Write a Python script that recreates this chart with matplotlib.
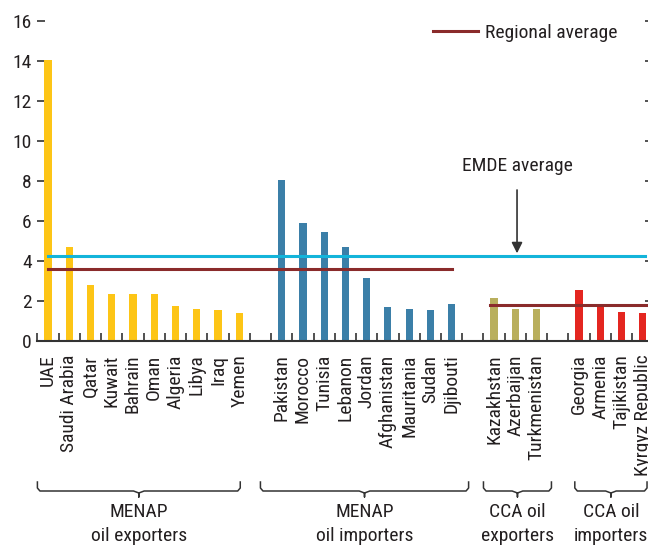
import matplotlib.pyplot as plt
import numpy as np

plt.rcParams['font.family'] = ['Roboto Condensed', 'DejaVu Sans']

# data
menap_exp = ["UAE", "Saudi Arabia", "Qatar", "Kuwait", "Bahrain", "Oman",
             "Algeria", "Libya", "Iraq", "Yemen"]
menap_exp_vals = [14.05, 4.68, 2.78, 2.33, 2.33, 2.33, 1.73, 1.58, 1.53, 1.38]

menap_imp = ["Pakistan", "Morocco", "Tunisia", "Lebanon", "Jordan",
             "Afghanistan", "Mauritania", "Sudan", "Djibouti"]
menap_imp_vals = [8.03, 5.88, 5.43, 4.68, 3.13, 1.68, 1.58, 1.53, 1.83]

cca_exp = ["Kazakhstan", "Azerbaijan", "Turkmenistan"]
cca_exp_vals = [2.13, 1.58, 1.58]

cca_imp = ["Georgia", "Armenia", "Tajikistan", "Kyrgyz Republic"]
cca_imp_vals = [2.53, 1.78, 1.43, 1.38]

group_labels = ["MENAP\noil exporters", "MENAP\noil importers",
                "CCA oil\nexporters", "CCA oil\nimporters"]

menap_avg = 3.57
cca_avg = 1.78
emde_avg = 4.22

colors = ["#FDC516", "#3B7FA8", "#B9AF5D", "#E42620"]
txt = "#231F20"

fig = plt.figure(figsize=(6.48, 5.46), dpi=100)
ax = fig.add_axes([37.4 / 648, 205.3 / 546, 616 / 648, 320 / 546])

groups = [(menap_exp, menap_exp_vals), (menap_imp, menap_imp_vals),
          (cca_exp, cca_exp_vals), (cca_imp, cca_imp_vals)]
all_pos, all_names, gpos = [], [], []
start = 0
for (names, vals), c in zip(groups, colors):
    pos = start + np.arange(len(names))
    ax.bar(pos, vals, width=0.34, color=c, zorder=2)
    all_pos += list(pos)
    all_names += names
    gpos.append(pos)
    start += len(names) + 1

# average lines
ax.plot([gpos[0][0], gpos[1][-1]], [menap_avg] * 2, color="#8A2B2B", lw=2.2, zorder=3)
ax.plot([gpos[2][0] - 0.2, 28.5], [cca_avg] * 2, color="#8A2B2B", lw=2.2, zorder=3,
        label="Regional average")
ax.plot([gpos[0][0], 28.1], [emde_avg] * 2, color="#13B4DA", lw=2.2, zorder=3)

ax.annotate("EMDE average", xy=(22.08, emde_avg + 0.15), xytext=(22.08, 8.75),
            ha="center", va="center", fontsize=14, color=txt,
            arrowprops=dict(arrowstyle="-|>", color="#333333", lw=1.2,
                            mutation_scale=16, shrinkA=9, shrinkB=0))

leg = ax.legend(loc="center left", bbox_to_anchor=(0.642, 0.9616), frameon=False,
                fontsize=14, handlelength=2.3, handletextpad=0.4,
                borderpad=0, borderaxespad=0)
for t in leg.get_texts():
    t.set_color(txt)

ax.set_xlim(-0.5, 28.5)
ax.set_ylim(0, 16)
ax.set_yticks(np.arange(0, 17, 2))
ax.tick_params(axis="y", direction="in", length=6, width=1.2, color="#333333",
               labelsize=14, labelcolor=txt, pad=4, right=True)
ax.set_xticks(all_pos)
ax.set_xticklabels(all_names, rotation=90, fontsize=14, color=txt)
ax.set_xticks(np.arange(-0.5, 28.6, 1), minor=True)
ax.tick_params(axis="x", which="major", length=0, pad=10)
ax.tick_params(axis="x", which="minor", direction="in", length=6, width=1.2,
               color="#333333")
for s in ["left", "right", "top"]:
    ax.spines[s].set_visible(False)
ax.spines["bottom"].set_color("#333333")
ax.spines["bottom"].set_linewidth(1.5)


# group brackets under the tick labels
def fy(py):
    return (340.7 - py) / 320


spans = [(-0.5, 9.05), (10.0, 19.8), (20.5, 23.7), (24.8, 28.2)]
tr = ax.get_xaxis_transform()
for (x0, x1), lab in zip(spans, group_labels):
    xc = (x0 + x1) / 2
    xs = [x0, x0, x0 + 0.12, xc - 0.25, xc, xc, xc, xc + 0.25, x1 - 0.12, x1, x1]
    ys = [482, 488, 491, 491, 493, 497, 493, 491, 491, 488, 482]
    ax.plot(xs, [fy(v) for v in ys], transform=tr, color="#333333", lw=1.1,
            clip_on=False)
    ax.text(xc, fy(503), lab, transform=tr, ha="center", va="top", fontsize=14,
            color=txt, linespacing=1.45)

fig.savefig("out.png", dpi=100)
